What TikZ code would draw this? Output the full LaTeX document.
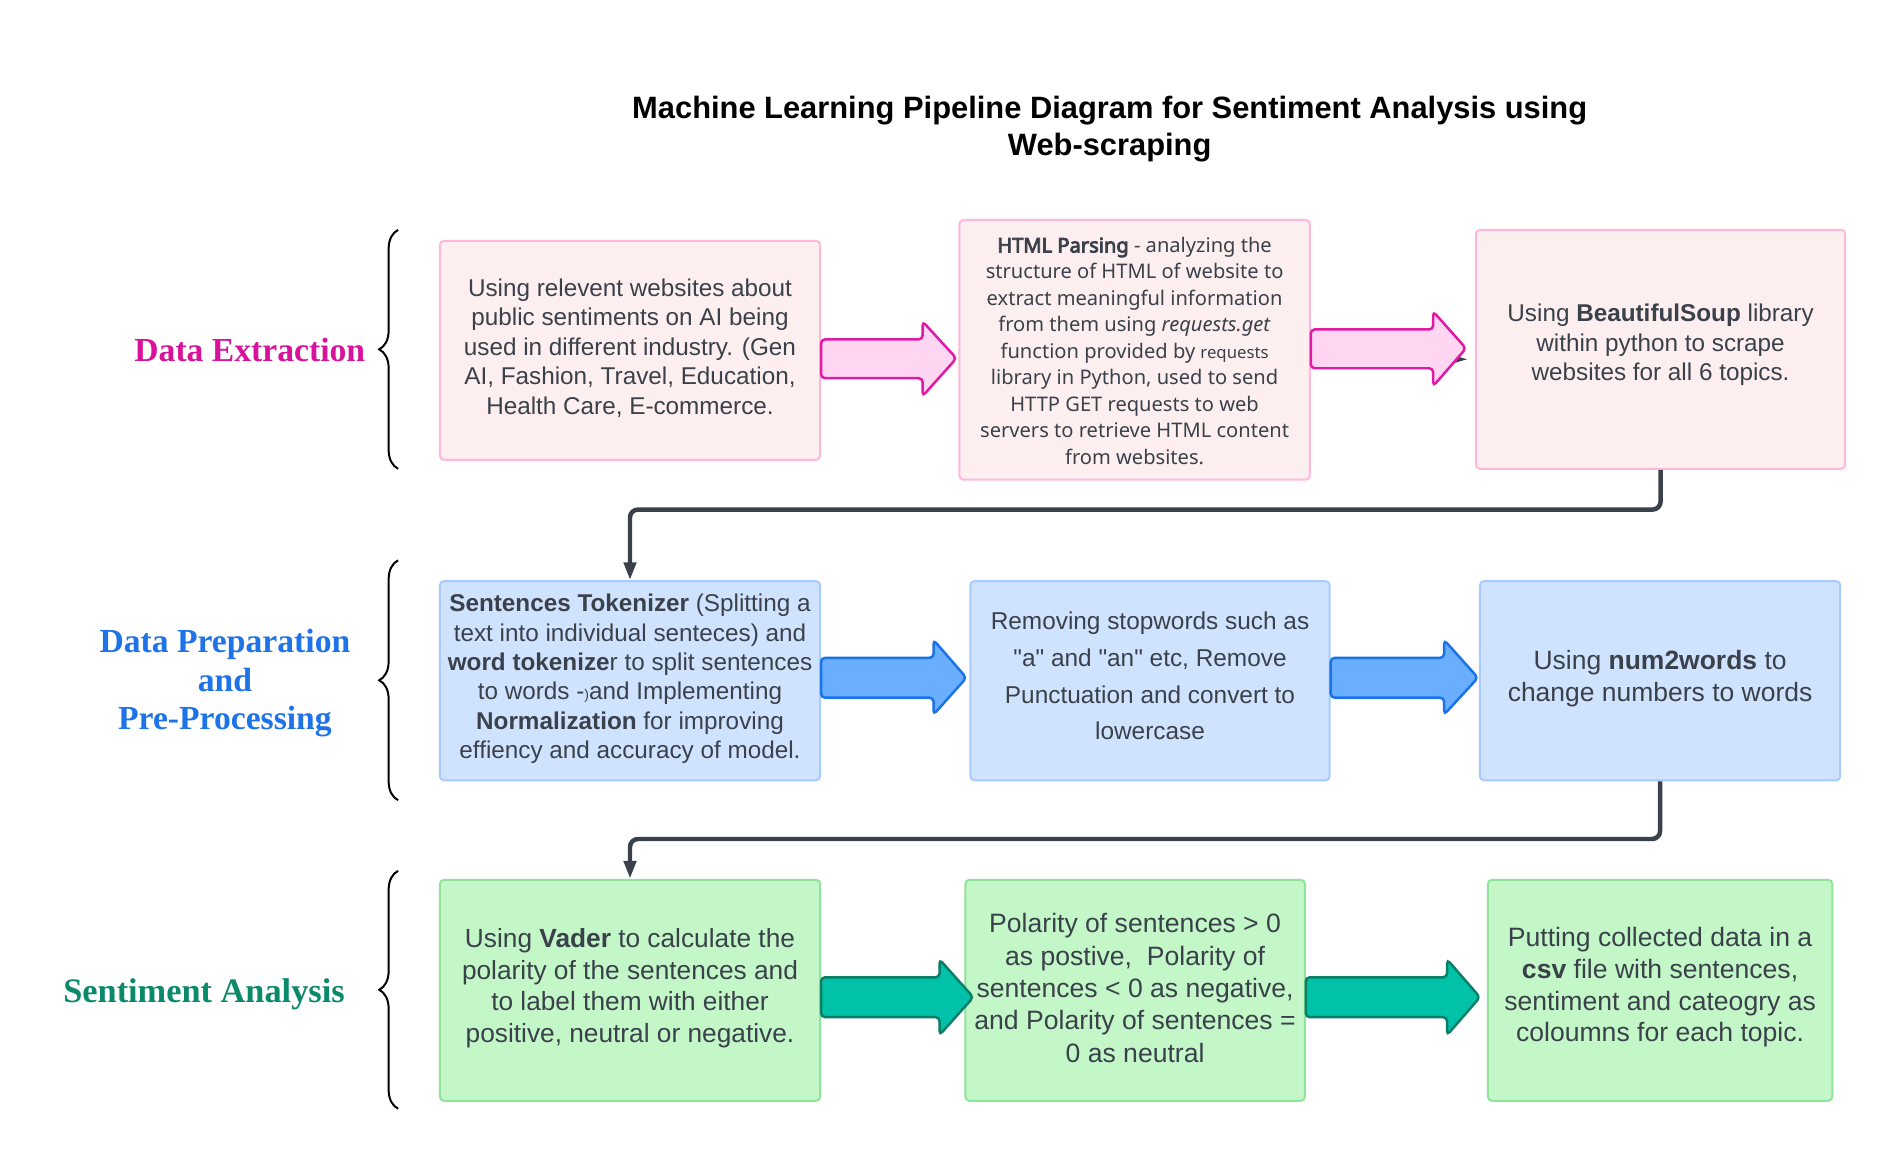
\documentclass[tikz,border=0pt]{standalone}
\usepackage{fontspec}
\setmainfont{Liberation Sans}
\newfontfamily\labfont{Liberation Serif}
\newfontfamily\notofont{Noto Sans}[AutoFakeBold=4]
\usetikzlibrary{arrows.meta,decorations.pathreplacing}
\definecolor{txt}{HTML}{3A414A}
\definecolor{pinkfill}{HTML}{FDEEEF}
\definecolor{pinkline}{HTML}{FFB8D9}
\definecolor{bluefill}{HTML}{CFE3FF}
\definecolor{blueline}{HTML}{A8CBFF}
\definecolor{greenfill}{HTML}{C3F7C8}
\definecolor{greenline}{HTML}{8FE39A}
\definecolor{pinkarrfill}{HTML}{FFD6F2}
\definecolor{pinkarrline}{HTML}{E01AA5}
\definecolor{bluearrfill}{HTML}{6AAEFF}
\definecolor{bluearrline}{HTML}{1A73E8}
\definecolor{tealarrfill}{HTML}{00C2A8}
\definecolor{tealarrline}{HTML}{0A7F66}
\definecolor{labpink}{HTML}{D9129B}
\definecolor{labblue}{HTML}{1E73E8}
\definecolor{labteal}{HTML}{0A8A6A}
\definecolor{connc}{HTML}{3A414A}
\begin{document}
\begin{tikzpicture}[x=1pt,y=-1pt,
  box/.style={rounded corners=4pt, line width=2pt, inner sep=0pt},
  pinkbox/.style={box, fill=pinkfill, draw=pinkline},
  bluebox/.style={box, fill=bluefill, draw=blueline},
  greenbox/.style={box, fill=greenfill, draw=greenline},
  boxtext/.style={align=center, text=txt, inner sep=0pt, font=\fontsize{24.4}{29.6}\selectfont},
  blockarr/.style={rounded corners=4pt, line width=2.5pt},
  pinkarr/.style={blockarr, fill=pinkarrfill, draw=pinkarrline},
  bluearr/.style={blockarr, fill=bluearrfill, draw=bluearrline},
  tealarr/.style={blockarr, fill=tealarrfill, draw=tealarrline},
  conn/.style={draw=connc, line width=4.5pt, rounded corners=8pt, -{Triangle[length=18pt,width=12pt]}},
  secbrace/.style={draw=black, line width=2pt, decorate, decoration={brace, amplitude=19pt}},
  seclabel/.style={font=\labfont\bfseries\fontsize{33.8}{38.5}\selectfont, align=center}
]
\useasboundingbox[fill=white] (0,0) rectangle (1894,1155.5);

% title
\node[font=\bfseries\fontsize{31}{37.5}\selectfont, align=center] (title) at (1115,129.6)
  {Machine Learning Pipeline Diagram for Sentiment Analysis using\\Web-scraping};

% section labels
\node[seclabel, text=labpink] (lab1) at (251,352) {Data Extraction};
\node[seclabel, text=labblue] (lab2) at (226,686.6) {Data Preparation\\and\\Pre-Processing};
\node[seclabel, text=labteal, font=\labfont\bfseries\fontsize{34.5}{38.5}\selectfont] (lab3) at (205,999.5) {Sentiment Analysis};

% braces
\coordinate (b1s) at (400,471); \coordinate (b1e) at (400,231);
\coordinate (b2s) at (400,804); \coordinate (b2e) at (400,563);
\coordinate (b3s) at (400,1114); \coordinate (b3e) at (400,875);
\draw[secbrace] (b1s) -- (b1e);
\draw[secbrace] (b2s) -- (b2e);
\draw[secbrace] (b3s) -- (b3e);

% row 1
\node[pinkbox, minimum width=382pt, minimum height=220pt] (A) at (633,352) {};
\node[boxtext, yshift=2.4pt] (At) at (A.center)
  {Using relevent websites about\\public sentiments on AI being\\used in different industry. (Gen\\AI, Fashion, Travel, Education,\\Health Care, E-commerce.};
\node[pinkbox, minimum width=352pt, minimum height=261pt] (B) at (1140,351.5) {};
\node[boxtext, yshift=-1pt, font=\notofont\fontsize{20.2}{26.6}\selectfont] (Bt) at (B.center)
  {\textbf{HTML Parsing} - analyzing the\\structure of HTML of website to\\extract meaningful information\\from them using \textit{requests.get}\\function provided by {\fontsize{16.8}{20}\selectfont requests}\\library in Python, used to send\\HTTP GET requests to web\\servers to retrieve HTML content\\from websites.};
\node[pinkbox, minimum width=371pt, minimum height=240pt] (C) at (1668.5,351) {};
\node[boxtext, yshift=4.5pt] (Ct) at (C.center)
  {Using \textbf{BeautifulSoup} library\\within python to scrape\\websites for all 6 topics.};

% row 2
\node[bluebox, minimum width=382pt, minimum height=200pt] (D) at (633,684) {};
\node[boxtext, yshift=1.8pt] (Dt) at (D.center)
  {\textbf{Sentences Tokenizer} (Splitting a\\text into individual senteces) and\\\textbf{word tokenize}r to split sentences\\to words -{\fontsize{14}{14}\selectfont)}and Implementing\\\textbf{Normalization} for improving\\effiency and accuracy of model.};
\node[bluebox, minimum width=361pt, minimum height=200pt] (E) at (1155.5,684) {};
\node[boxtext, yshift=4.8pt, font=\fontsize{24.5}{37}\selectfont] (Et) at (E.center)
  {Removing stopwords such as\\\textquotedbl a\textquotedbl{} and \textquotedbl an\textquotedbl{} etc, Remove\\Punctuation and convert to\\lowercase};
\node[bluebox, minimum width=362pt, minimum height=200pt] (F) at (1668,684) {};
\node[boxtext, yshift=2pt, font=\fontsize{26.6}{31.4}\selectfont] (Ft) at (F.center)
  {Using \textbf{num2words} to\\change numbers to words};

% row 3
\node[greenbox, minimum width=382pt, minimum height=222pt] (G) at (633,995) {};
\node[boxtext, yshift=2pt, font=\fontsize{26.4}{31.8}\selectfont] (Gt) at (G.center)
  {Using \textbf{Vader} to calculate the\\polarity of the sentences and\\to label them with either\\positive, neutral or negative.};
\node[greenbox, minimum width=341pt, minimum height=222pt] (H) at (1140.5,995) {};
\node[boxtext, yshift=2.4pt, font=\fontsize{26.7}{32.5}\selectfont] (Ht) at (H.center)
  {Polarity of sentences > 0\\as postive,\ \ Polarity of\\sentences < 0 as negative,\\and Polarity of sentences =\\0 as neutral};
\node[greenbox, minimum width=346pt, minimum height=222pt] (I) at (1668,995) {};
\node[boxtext, yshift=2.7pt, font=\fontsize{26.7}{31.8}\selectfont] (It) at (I.center)
  {Putting collected data in a\\\textbf{csv} file with sentences,\\sentiment and cateogry as\\coloumns for each topic.};

% small hidden arrowhead peeking behind the second pink arrow
\coordinate (pk) at (1474,361);
\fill[connc] (pk) -- ++(-17,-5) -- ++(0,10) -- cycle;

% block arrows row 1
\draw[pinkarr] (A.east |- 0,341) -- (927,341) -- (927,323) -- (961,360) -- (927,398) -- (927,380) -- (A.east |- 0,380) -- cycle;
\draw[pinkarr] (B.east |- 0,331) -- (1440,331) -- (1440,313) -- (1473,350) -- (1440,388) -- (1440,370) -- (B.east |- 0,370) -- cycle;
% row 2
\draw[bluearr] (D.east |- 0,661) -- (938,661) -- (938,643) -- (971,681) -- (938,718) -- (938,701) -- (D.east |- 0,701) -- cycle;
\draw[bluearr] (E.east |- 0,661) -- (1451,661) -- (1451,643) -- (1485,681) -- (1451,718) -- (1451,701) -- (E.east |- 0,701) -- cycle;
% row 3
\draw[tealarr] (G.east |- 0,982) -- (944,982) -- (944,964) -- (978,1002) -- (944,1040) -- (944,1022) -- (G.east |- 0,1022) -- cycle;
\draw[tealarr] (H.east |- 0,982) -- (1454,982) -- (1454,964) -- (1487,1002) -- (1454,1040) -- (1454,1022) -- (H.east |- 0,1022) -- cycle;

% connectors
\coordinate (j1) at (0,512);
\coordinate (j2) at (0,843);
\draw[conn] (C.south) -- (C.south |- j1) -- (D.north |- j1) -- (D.north);
\draw[conn] (F.south) -- (F.south |- j2) -- (G.north |- j2) -- (G.north);
\end{tikzpicture}
\end{document}
